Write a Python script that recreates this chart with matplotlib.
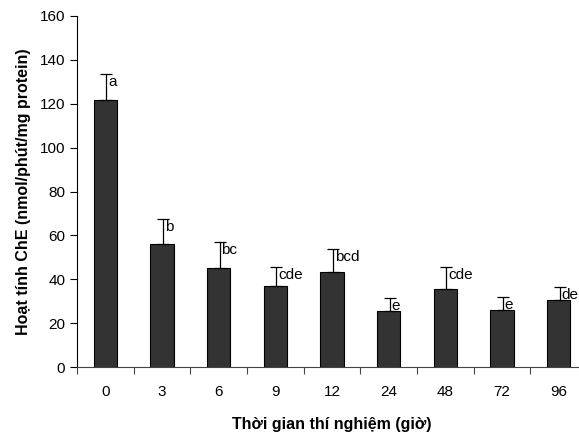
import matplotlib
matplotlib.use("Agg")
import matplotlib.pyplot as plt
import numpy as np

plt.rcParams["font.family"] = ["Liberation Sans", "DejaVu Sans"]

# ChE activity over exposure time (mean, upper SD, significance letters)
hours = ["0", "3", "6", "9", "12", "24", "48", "72", "96"]
che_mean = [121.5, 56.1, 45.3, 36.9, 43.2, 25.6, 35.8, 26.2, 30.6]
che_sd = [12.0, 11.4, 11.9, 8.7, 10.5, 6.1, 10.0, 5.9, 6.1]
groups = ["a", "b", "bc", "cde", "bcd", "e", "cde", "e", "de"]

fig = plt.figure(figsize=(5.79, 4.32), dpi=100)
# axis runs past the right edge of the figure
ax = fig.add_axes([77 / 579, (432 - 367.3) / 432, 510 / 579, 351.6 / 432])

x = np.arange(len(hours))
ax.bar(x, che_mean, width=0.41, color="#333333", edgecolor="black",
       linewidth=0.8, zorder=2)
ax.errorbar(x + 0.02, che_mean, yerr=[np.zeros(len(x)), che_sd], fmt="none",
            ecolor="black", elinewidth=0.9, capsize=4.5, capthick=0.9, zorder=3)

for xi, m, s, g in zip(x, che_mean, che_sd, groups):
    ax.text(xi + 0.05, m + s - 0.5, g, ha="left", va="top", fontsize=11)

ax.set_xlim(-0.5, 8.5)
ax.set_ylim(0, 160)
ax.set_yticks(np.arange(0, 161, 20))
ax.set_xticks(x)
ax.set_xticklabels(hours)
ax.set_xticks(np.arange(-0.5, 9, 1), minor=True)
ax.tick_params(axis="x", which="major", length=0, pad=13, labelsize=11)
ax.tick_params(axis="x", which="minor", length=5, width=0.8, color="#444444")
ax.tick_params(axis="y", length=5, width=0.8, labelsize=11)

for side in ["top", "right"]:
    ax.spines[side].set_visible(False)
ax.spines["left"].set_linewidth(0.8)
ax.spines["bottom"].set_linewidth(0.8)
ax.spines["bottom"].set_color("#444444")

ax.set_xlabel("Thời gian thí nghiệm (giờ)", fontsize=11.5, fontweight="bold",
              labelpad=13)
ax.set_ylabel("Hoạt tính ChE (nmol/phút/mg protein)", fontsize=11.5,
              fontweight="bold", labelpad=6)

fig.savefig("out.png", dpi=100)
